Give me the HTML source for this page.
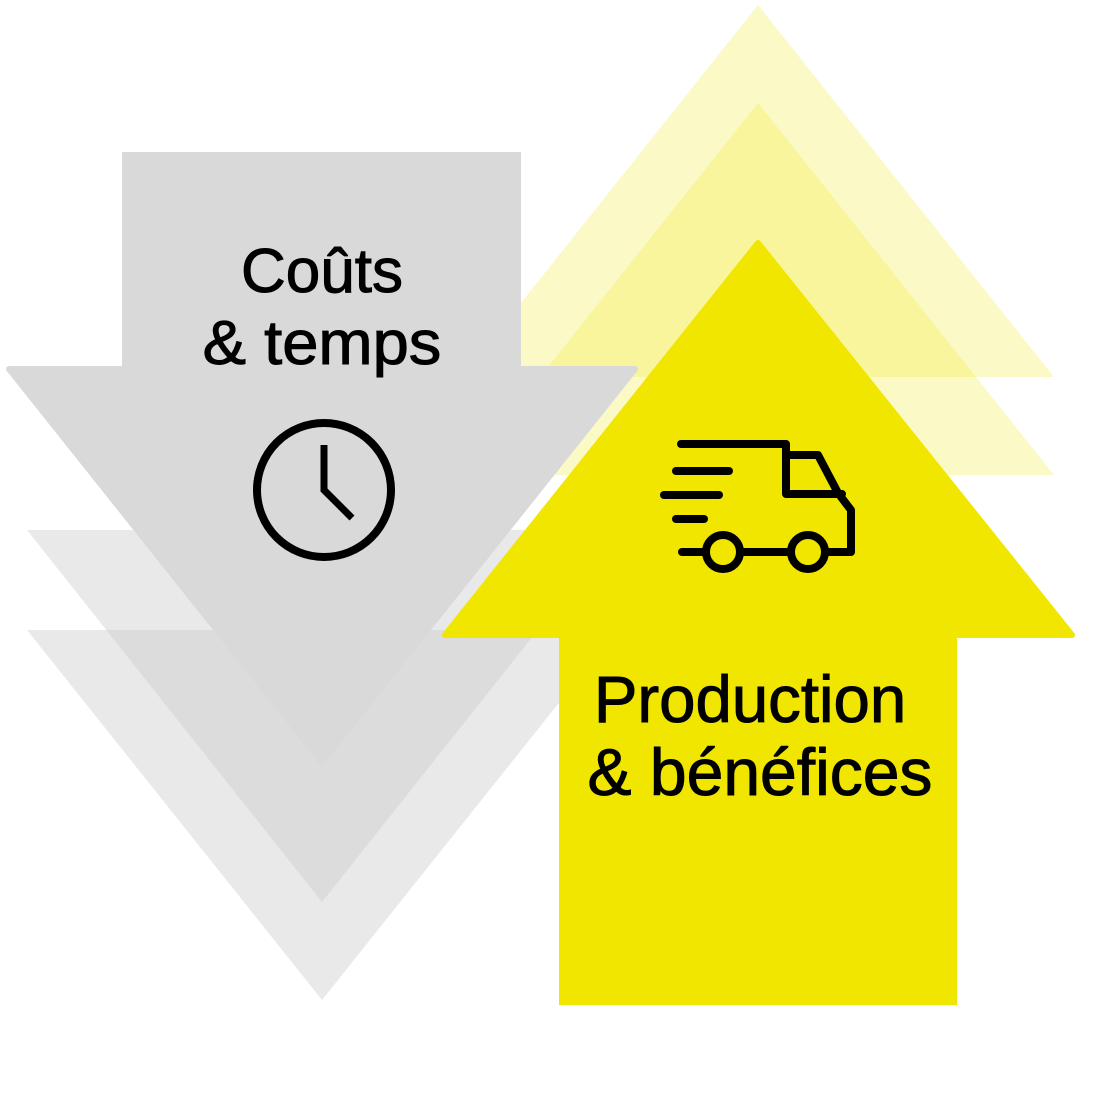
<!DOCTYPE html>
<html><head><meta charset="utf-8"><style>
html,body{margin:0;padding:0;background:#fff;}
svg{display:block}
text{font-family:"Liberation Sans",sans-serif;fill:#000;stroke:#000;stroke-width:1}
</style></head><body>
<svg width="1097" height="1097" viewBox="0 0 1097 1097" xmlns="http://www.w3.org/2000/svg">
<!-- faded gray -->
<polygon points="27,630 617,630 322,1000" fill="#c8c8c8" fill-opacity="0.4"/>
<polygon points="27,530 617,530 322,902" fill="#c8c8c8" fill-opacity="0.4"/>
<!-- faded yellow -->
<polygon points="758,5 1054,377 462,377" fill="#f3ea40" fill-opacity="0.3"/>
<polygon points="758,103 1054,475 462,475" fill="#f3ea40" fill-opacity="0.3"/>
<!-- gray arrow -->
<rect x="122" y="152" width="399" height="220" fill="#d9d9d9"/>
<polygon points="9,369 635,369 322,762" fill="#d9d9d9" stroke="#d9d9d9" stroke-width="6" stroke-linejoin="round"/>
<!-- yellow arrow -->
<polygon points="758,243 1072,635 445,635" fill="#f0e600" stroke="#f0e600" stroke-width="6" stroke-linejoin="round"/>
<rect x="559" y="630" width="398" height="375" fill="#f0e600"/>
<!-- text -->
<text x="322" y="292" font-size="62" text-anchor="middle">Coûts</text>
<text x="322" y="364" font-size="62" text-anchor="middle" transform="translate(322 0) scale(1.05 1) translate(-322 0)">&amp; temps</text>
<text x="750" y="722" font-size="66" text-anchor="middle" transform="translate(750 0) scale(0.99 1) translate(-750 0)">Production</text>
<text x="760" y="795" font-size="66" text-anchor="middle">&amp; bénéfices</text>
<!-- clock -->
<circle cx="324" cy="490" r="67" fill="none" stroke="#000" stroke-width="8"/>
<polyline points="324,445 324,490 352,518" fill="none" stroke="#000" stroke-width="7"/>
<!-- truck -->
<g fill="none" stroke="#000" stroke-width="8" stroke-linecap="round" stroke-linejoin="round">
<polyline points="681,444 786,444 786,494 842,494"/>
<polyline points="786,455 818,455 838,493 851,510 851,552 826,552"/>
<line x1="676" y1="471" x2="729" y2="471"/>
<line x1="664" y1="495" x2="719" y2="495"/>
<line x1="676" y1="519" x2="704" y2="519"/>
<line x1="682" y1="552" x2="705" y2="552"/>
<line x1="741" y1="552" x2="790" y2="552"/>
<circle cx="723" cy="552" r="17"/>
<circle cx="808" cy="552" r="17"/>
</g>
</svg>
</body></html>
